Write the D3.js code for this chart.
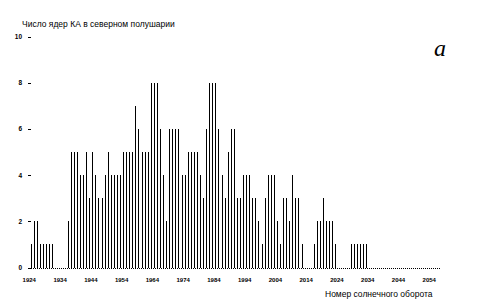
<!DOCTYPE html>
<html>
<head>
<meta charset="utf-8">
<script src="https://cdn.jsdelivr.net/npm/d3@7"></script>
<style>
  body { margin: 0; background: #fff; }
  text { font-family: 'Liberation Sans', Arial, sans-serif; fill: #000; }
</style>
</head>
<body>
<script>
width = 497
height = 306

// solar rotation numbers, first one shown
firstRotation = 1924
lastRotation = 2057

// number of nuclei per rotation, 1924 .. 2057
counts = [
    1, 2, 2, 1, 1, 1, 1, 1, 0, 0,
    0, 0, 2, 5, 5, 5, 4, 4, 5, 3,
    5, 4, 3, 3, 4, 5, 4, 4, 4, 4,
    5, 5, 5, 5, 7, 6, 5, 5, 5, 8,
    8, 8, 6, 4, 2, 6, 6, 6, 6, 4,
    4, 5, 5, 5, 5, 4, 3, 6, 8, 8,
    8, 6, 4, 3, 5, 6, 6, 3, 3, 4,
    4, 4, 3, 3, 2, 1, 3, 4, 4, 4,
    2, 1, 3, 3, 2, 4, 3, 3, 1, 0,
    0, 0, 1, 2, 2, 3, 2, 2, 2, 1,
    0, 0, 0, 0, 1, 1, 1, 1, 1, 1,
    0, 0, 0, 0, 0, 0, 0, 0, 0, 0,
    0, 0, 0, 0, 0, 0, 0, 0, 0, 0,
    0, 0, 0, 0
]

xTicks = [1924, 1934, 1944, 1954, 1964, 1974, 1984, 1994, 2004, 2014, 2024, 2034, 2044, 2054]
yTicks = [0, 2, 4, 6, 8, 10]

data = counts.map((c, i) => ({ rot: firstRotation + i, n: c }))

svg = d3.select('body')
    .append('svg')
    .attr('width', width)
    .attr('height', height)

xScale = d3.scaleLinear()
    .domain([firstRotation, lastRotation])
    .range([30.8, 440])

yScale = d3.scaleLinear()
    .domain([0, 10])
    .range([267.5, 36.5])

// bars
svg.selectAll('rect.bar')
    .data(data.filter(d => d.n > 0))
    .enter()
    .append('rect')
    .attr('class', 'bar')
    .attr('x', d => Math.round(xScale(d.rot)))
    .attr('y', d => Math.round(yScale(d.n)))
    .attr('width', 1)
    .attr('height', d => Math.round(yScale(0)) - Math.round(yScale(d.n)))
    .attr('shape-rendering', 'crispEdges')
    .style('fill', '#000')

// dotted baseline
svg.append('line')
    .attr('x1', xScale(firstRotation))
    .attr('x2', xScale(lastRotation) + 1)
    .attr('y1', Math.round(yScale(0)) + 0.5)
    .attr('y2', Math.round(yScale(0)) + 0.5)
    .attr('stroke', '#000')
    .attr('stroke-width', 1)
    .attr('stroke-dasharray', '1,1')
    .attr('shape-rendering', 'crispEdges')

//y axis
yAxis = svg.append('g')
    .attr('transform', 'translate(31,0)')
    .call(d3.axisLeft(yScale).tickValues(yTicks).tickSize(3).tickPadding(6))
yAxis.select('.domain').remove()
yAxis.selectAll('line').attr('shape-rendering', 'crispEdges')
yAxis.selectAll('text')
    .style('font-size', '6.5px')
    .style('font-weight', 'bold')

//x tick labels
svg.selectAll('text.xtick')
    .data(xTicks)
    .enter()
    .append('text')
    .attr('class', 'xtick')
    .text(d => d)
    .attr('x', d => xScale(d) - 1.5)
    .attr('y', 282)
    .attr('text-anchor', 'middle')
    .style('font-size', '6px')
    .style('font-weight', 'bold')

//y axis title
svg.append('text')
    .text('Число ядер КА в северном полушарии')
    .attr('x', 22)
    .attr('y', 27)
    .style('font-size', '8.5px')

//x axis title
svg.append('text')
    .text('Номер солнечного оборота')
    .attr('x', 325)
    .attr('y', 297)
    .style('font-size', '8.5px')

// panel letter
svg.append('text')
    .text('a')
    .attr('x', 434)
    .attr('y', 56)
    .style('font-family', "'Liberation Serif', 'Times New Roman', serif")
    .style('font-style', 'italic')
    .style('font-size', '24px')
</script>
</body>
</html>
